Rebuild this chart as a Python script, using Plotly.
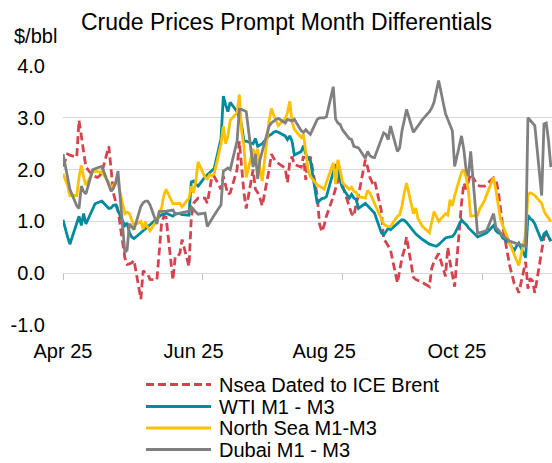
import pandas as pd
import plotly.graph_objects as go

# ---------------- data: daily (business-day) prompt-month differentials, $/bbl ----------------
dates = pd.bdate_range("2025-04-01", "2025-10-31")

nsea_dated = [
    # Apr
    2.06, 2.20, 2.30, 2.28, 2.24, 2.95, 2.65, 2.35, 2.05, 1.88, 1.86, 1.85, 1.88, 1.95, 2.45, 1.95, 1.55, 1.38, 1.22, 0.30, 0.17, 0.18,
    # May
    0.20, 0.25, -0.50, 0.05, 0.00, -0.02, -0.12, -0.13, 0.45, 0.95, 1.10, 1.08, -0.13, 0.32, 0.32, 0.38, 0.65, 0.13, 1.05, 1.35, 1.40, 1.45,
    # Jun
    1.45, 1.35, 1.60, 1.87, 1.87, 1.62, 1.87, 1.70, 1.52, 1.55, 2.00, 2.55, 2.00, 1.55, 1.25, 2.00, 1.62, 1.56, 1.45, 1.30, 2.00,
    # Jul
    2.30, 2.22, 2.15, 2.12, 2.03, 1.75, 2.15, 2.25, 2.10, 2.05, 2.26, 1.80, 2.20, 2.25, 1.50, 0.95, 0.80, 0.92, 1.10, 1.48, 1.65, 1.80, 1.94,
    # Aug
    1.70, 1.25, 1.15, 1.10, 1.35, 1.50, 2.19, 2.05, 1.85, 1.75, 1.80, 1.20, 0.65, 0.60, 0.52, 0.45, -0.19, 0.10, 0.30, 0.45, 0.70,
    # Sep
    -0.08, -0.12, -0.14, -0.16, -0.18, -0.26, 0.10, 0.22, 0.30, 0.38, -0.06, 0.50, 0.20, -0.02, -0.26, 1.35, 1.74, 1.62, 1.75, 1.92, 1.70, 1.68,
    # Oct
    1.68, 1.68, 1.72, 1.84, 1.81, 1.60, 1.25, 0.90, 0.15, -0.05, -0.20, -0.26, -0.38, 0.22, -0.30, -0.10, -0.15, -0.38, 0.45, 0.70, 0.75, 0.70, 0.62,
]

wti_m1_m3 = [
    # Apr
    1.03, 0.85, 0.70, 0.56, 0.98, 1.10, 0.92, 1.15, 0.95, 1.25, 1.34, 1.36, 1.38, 1.39, 1.25, 1.26, 1.31, 1.32, 1.20, 0.92, 0.97, 0.78,
    # May
    0.70, 0.67, 0.78, 0.82, 0.85, 0.90, 0.93, 1.05, 1.10, 1.13, 1.14, 1.16, 1.10, 1.14, 1.15, 1.15, 1.13, 1.12, 1.76, 1.78, 1.72, 1.68,
    # Jun
    1.86, 1.90, 1.95, 1.98, 2.02, 2.60, 3.42, 3.25, 3.12, 3.30, 3.12, 3.00, 2.85, 2.55, 2.55, 2.50, 2.60, 2.45, 2.47, 2.50, 2.66,
    # Jul
    2.68, 2.72, 2.74, 2.72, 2.65, 2.58, 2.65, 2.55, 2.28, 2.35, 2.46, 2.30, 2.22, 2.18, 1.35, 1.40, 1.44, 1.45, 1.48, 1.95, 2.10, 2.00, 1.78,
    # Aug
    1.65, 1.45, 1.52, 1.45, 1.42, 1.25, 1.35, 1.30, 1.27, 1.22, 1.16, 0.78, 0.74, 0.80, 0.87, 0.84, 0.97, 1.00, 1.03, 1.02, 0.98,
    # Sep
    0.80, 0.76, 0.72, 0.68, 0.65, 0.56, 0.55, 0.53, 0.52, 0.55, 0.68, 0.69, 0.70, 0.71, 0.76, 1.03, 0.98, 0.94, 0.88, 0.83, 0.70, 0.72,
    # Oct
    0.74, 0.76, 0.78, 0.92, 0.82, 0.78, 0.76, 0.68, 0.58, 0.50, 0.44, 0.52, 0.58, 0.30, 1.12, 1.05, 1.02, 0.95, 0.62, 0.76, 0.80, 0.70, 0.62,
]

north_sea_m1_m3 = [
    # Apr
    1.92, 1.80, 1.70, 1.50, 1.50, 1.85, 2.08, 1.85, 1.70, 1.95, 1.97, 1.96, 1.96, 1.95, 1.75, 1.62, 1.70, 1.74, 1.74, 1.15, 1.18, 1.15,
    # May
    1.03, 0.92, 1.00, 0.85, 1.00, 0.88, 0.82, 1.02, 1.16, 1.25, 1.50, 1.62, 1.34, 1.34, 1.35, 1.35, 1.28, 1.45, 1.68, 1.55, 1.78, 2.15,
    # Jun
    1.85, 1.82, 1.90, 1.88, 1.92, 2.50, 2.84, 2.50, 2.65, 2.95, 3.10, 3.45, 2.75, 2.45, 1.85, 2.40, 2.26, 2.40, 2.00, 1.78, 2.95,
    # Jul
    3.18, 3.05, 2.95, 2.85, 2.98, 3.10, 3.32, 2.92, 2.78, 2.62, 2.68, 2.30, 2.00, 1.87, 1.70, 1.68, 1.65, 1.62, 1.75, 2.13, 1.72, 2.19, 2.00,
    # Aug
    1.75, 1.62, 1.66, 1.58, 1.56, 1.48, 1.45, 1.60, 1.55, 1.45, 1.35, 1.03, 0.95, 0.92, 0.90, 0.90, 1.10, 1.13, 1.30, 1.55, 1.74,
    # Sep
    1.15, 1.26, 1.05, 0.98, 0.90, 0.78, 0.97, 1.19, 1.10, 1.00, 1.15, 1.12, 1.42, 1.30, 1.50, 1.95, 2.00, 1.85, 1.60, 1.10, 1.12, 1.25,
    # Oct
    1.32, 1.40, 1.52, 1.85, 1.60, 1.30, 1.05, 0.92, 0.58, 0.45, 0.35, 0.25, 0.15, 0.75, 1.52, 1.55, 1.53, 1.50, 1.35, 1.20, 1.12, 1.05, 1.00,
]

dubai_m1_m3 = [
    # Apr
    2.30, 2.10, 1.85, 1.62, 1.30, 1.25, 1.68, 1.58, 1.53, 2.00, 2.02, 2.03, 2.05, 2.06, 1.70, 1.58, 1.64, 1.75, 1.97, 0.40, 0.45, 0.95,
    # May
    0.90, 0.84, 1.29, 1.36, 1.39, 1.39, 1.32, 0.95, 1.19, 1.19, 1.19, 1.20, 1.22, 1.14, 1.15, 1.16, 1.16, 1.20, 1.28, 1.22, 1.18, 1.14,
    # Jun
    1.16, 0.90, 0.98, 1.06, 1.12, 1.32, 1.97, 2.00, 2.03, 2.00, 2.55, 3.16, 3.16, 3.14, 3.12, 2.05, 2.30, 1.82, 2.19, 2.35, 2.84,
    # Jul
    2.90, 2.94, 2.97, 2.99, 2.90, 2.97, 2.95, 2.94, 2.97, 2.75, 2.72, 2.77, 2.72, 2.68, 2.97, 3.00, 3.00, 3.00, 3.02, 3.60, 2.98, 2.90, 2.87,
    # Aug
    2.77, 2.60, 2.58, 2.45, 2.44, 2.42, 2.22, 2.35, 2.27, 2.24, 2.23, 2.62, 2.71, 2.68, 2.58, 2.84, 2.35, 2.42, 2.75, 2.95, 3.16,
    # Sep
    2.72, 2.78, 2.84, 2.90, 2.97, 3.12, 3.19, 3.30, 3.50, 3.72, 3.08, 2.97, 2.88, 2.75, 2.06, 2.65, 2.39, 2.00, 1.87, 2.35, 0.77, 0.78,
    # Oct
    0.80, 0.81, 0.83, 1.15, 0.88, 0.84, 0.78, 0.72, 0.62, 0.60, 0.58, 0.57, 0.56, 0.52, 3.00, 2.95, 2.90, 2.85, 1.50, 2.88, 2.90, 2.55, 2.05,
]

series_names = ["Nsea Dated to ICE Brent", "WTI M1 - M3", "North Sea M1-M3", "Dubai M1 - M3"]
series_values = [nsea_dated, wti_m1_m3, north_sea_m1_m3, dubai_m1_m3]

y_tick_values = [-1, 0, 1, 2, 3, 4]
y_tick_text = ["-1.0", "0.0", "1.0", "2.0", "3.0", "4.0"]
x_label_dates = ["2025-04-01", "2025-05-28", "2025-07-24", "2025-09-20"]
x_label_text = ["Apr 25", "Jun 25", "Aug 25", "Oct 25"]
month_tick_dates = ["2025-04-01", "2025-06-01", "2025-08-01", "2025-10-01"]

# ---------------- styling ----------------
series_colors = ["#D4434E", "#008A9E", "#FFC000", "#808080"]
series_dash = ["8px,4px", "solid", "solid", "solid"]
FONT = "Liberation Sans, Arial, sans-serif"
TEXT = "#000000"
GRID = "#D9D9D9"

W, H = 552, 463
L, R, T, B = 63, 0, 66, 138
PW, PH = W - L - R, H - T - B
x_range = ["2025-04-01", "2025-10-31 12:00"]
y_range = [-1, 4]


def paper_x(px):
    return (px - L) / PW


def paper_y(py):
    return (H - B - py) / PH


fig = go.Figure()
for name, vals, color, dash in zip(series_names, series_values, series_colors, series_dash):
    n = min(len(dates), len(vals))
    fig.add_trace(go.Scatter(
        x=dates[:n], y=vals[:n], mode="lines", name=name,
        line=dict(color=color, width=2.8, dash=dash),
        showlegend=False, hoverinfo="x+y+name",
    ))

# empty trace so the zero-line tick axis gets drawn
fig.add_trace(go.Scatter(x=[], y=[], xaxis="x2", yaxis="y", showlegend=False, hoverinfo="skip"))

fig.update_layout(
    width=W, height=H, autosize=False,
    margin=dict(l=L, r=R, t=T, b=B, pad=0),
    paper_bgcolor="white", plot_bgcolor="white",
    font=dict(family=FONT, size=20, color=TEXT),
    title=dict(
        text="Crude Prices Prompt Month Differentials",
        font=dict(family=FONT, size=23, color=TEXT),
        x=286.5 / W, xref="container", xanchor="center",
        y=1 - 21.5 / H, yref="container", yanchor="middle",
    ),
    xaxis=dict(
        type="date", range=x_range, showgrid=False, zeroline=False, showline=False,
        tickmode="array", tickvals=x_label_dates, ticktext=x_label_text,
        ticks="", ticklabelstandoff=12,
        tickfont=dict(family=FONT, size=20, color=TEXT),
    ),
    # month-start tick marks sitting on the zero line
    xaxis2=dict(
        type="date", range=x_range, overlaying="x", anchor="free",
        position=(0 - y_range[0]) / (y_range[1] - y_range[0]),
        showgrid=False, zeroline=False, showline=False, showticklabels=False,
        tickmode="array", tickvals=month_tick_dates,
        ticks="outside", ticklen=6, tickwidth=1, tickcolor="#BFBFBF",
    ),
    yaxis=dict(
        range=y_range, tickmode="array", tickvals=y_tick_values, ticktext=y_tick_text,
        showgrid=True, gridcolor=GRID, gridwidth=1, zeroline=False, showline=False,
        ticks="", ticklabelstandoff=17,
        tickfont=dict(family=FONT, size=20, color=TEXT),
    ),
)

# unit label above the value axis
fig.add_annotation(
    text="$/bbl", xref="paper", yref="paper", x=paper_x(12), y=paper_y(36),
    xanchor="left", yanchor="middle", showarrow=False,
    font=dict(family=FONT, size=20, color=TEXT),
)

# legend below the plot: long line keys with labels
legend_rows = [384.5, 406.5, 428.0, 449.5]
for name, color, dash, row in zip(series_names, series_colors, series_dash, legend_rows):
    fig.add_shape(
        type="line", xref="paper", yref="paper",
        x0=paper_x(146), x1=paper_x(211), y0=paper_y(row), y1=paper_y(row),
        line=dict(color=color, width=3, dash=dash),
    )
    fig.add_annotation(
        text=name, xref="paper", yref="paper", x=paper_x(217), y=paper_y(row),
        xanchor="left", yanchor="middle", showarrow=False,
        font=dict(family=FONT, size=20, color=TEXT),
    )

fig.write_html("out.html")
